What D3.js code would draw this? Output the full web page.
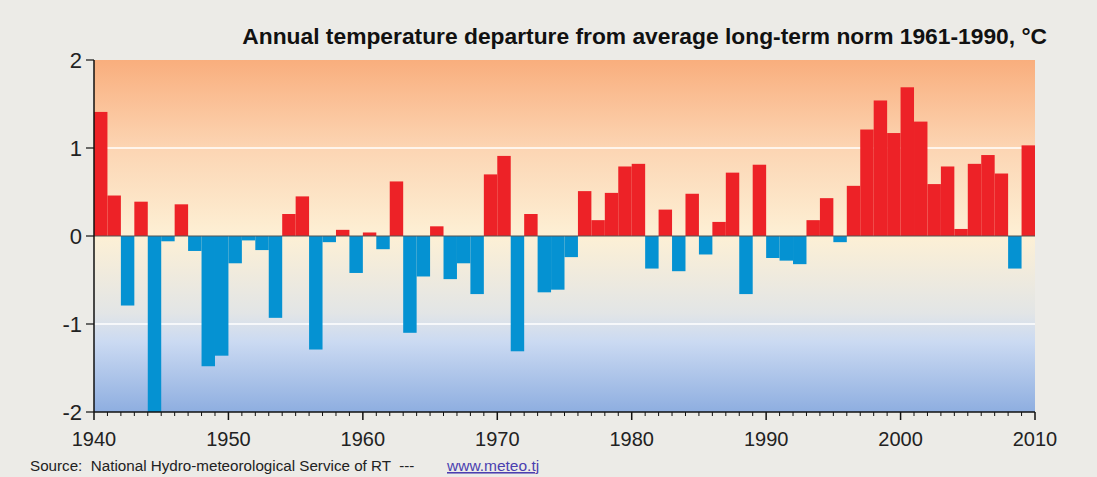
<!DOCTYPE html>
<html>
<head>
<meta charset="utf-8">
<script src="https://cdn.jsdelivr.net/npm/d3@7"></script>
<style>
  html, body { margin: 0; padding: 0; background: #ecebe7; }
  svg { display: block; font-family: "Liberation Sans", Arial, sans-serif; }
</style>
</head>
<body>
<svg id="chart" width="1097" height="477"></svg>
<script>
// Annual departure from 1961-1990 norm, one value per year
const years = d3.range(1940, 2010);
const departures = [
  1.41, 0.46, -0.79, 0.39, -2.0, -0.06, 0.36, -0.17, -1.48, -1.36,
  -0.31, -0.05, -0.16, -0.93, 0.25, 0.45, -1.29, -0.07, 0.07, -0.42,
  0.04, -0.15, 0.62, -1.10, -0.46, 0.11, -0.49, -0.31, -0.66, 0.70,
  0.91, -1.31, 0.25, -0.64, -0.61, -0.24, 0.51, 0.18, 0.49, 0.79,
  0.82, -0.37, 0.30, -0.40, 0.48, -0.21, 0.16, 0.72, -0.66, 0.81,
  -0.25, -0.28, -0.32, 0.18, 0.43, -0.07, 0.57, 1.21, 1.54, 1.17,
  1.69, 1.30, 0.59, 0.79, 0.08, 0.82, 0.92, 0.71, -0.37, 1.03
];
const yTicks = [2, 1, 0, -1, -2];
const xLabels = [1940, 1950, 1960, 1970, 1980, 1990, 2000, 2010];
const title = 'Annual temperature departure from average long-term norm 1961-1990, °C';

const data = years.map((y, i) => ({ year: y, value: departures[i] }));

const svg = d3.select('#chart');
const plotLeft = 94, plotRight = 1035, plotTop = 60, plotBottom = 412;

const x = d3.scaleLinear().domain([1940, 2010]).range([plotLeft, plotRight]);
const y = d3.scaleLinear().domain([-2, 2]).range([plotBottom, plotTop]);

// Background gradient: orange at top, cream at zero, blue at bottom
const grad = svg.append('defs').append('linearGradient')
  .attr('id', 'bg').attr('x1', 0).attr('y1', 0).attr('x2', 0).attr('y2', 1);
[
  [0, '#f9ae7d'], [0.25, '#fcd5b3'], [0.5, '#fdf0d5'],
  [0.72, '#e2e5e6'], [0.8, '#cbdaf2'], [1, '#8eaee0']
].forEach(([o, c]) => grad.append('stop').attr('offset', o).attr('stop-color', c));

svg.append('rect')
  .attr('x', plotLeft).attr('y', plotTop)
  .attr('width', plotRight - plotLeft).attr('height', plotBottom - plotTop)
  .attr('fill', 'url(#bg)');

// White grid lines at +1 / -1
svg.selectAll('.grid')
  .data([1, -1])
  .join('line')
  .attr('x1', plotLeft).attr('x2', plotRight)
  .attr('y1', d => y(d)).attr('y2', d => y(d))
  .attr('stroke', '#fff').attr('stroke-width', 1.5);

// Bars span [year, year+1]
svg.selectAll('.bar')
  .data(data)
  .join('rect')
  .attr('x', d => x(d.year))
  .attr('width', d => x(d.year + 1) - x(d.year))
  .attr('y', d => y(Math.max(0, d.value)))
  .attr('height', d => Math.abs(y(d.value) - y(0)))
  .attr('fill', d => d.value >= 0 ? '#ed2227' : '#0592d2');

// Zero line
svg.append('line')
  .attr('x1', plotLeft).attr('x2', plotRight)
  .attr('y1', y(0)).attr('y2', y(0))
  .attr('stroke', '#555').attr('stroke-width', 1.2);

// Y axis
svg.append('line')
  .attr('x1', plotLeft).attr('x2', plotLeft).attr('y1', plotTop).attr('y2', plotBottom)
  .attr('stroke', '#111').attr('stroke-width', 1.5);
svg.selectAll('.ytick')
  .data(yTicks)
  .join('line')
  .attr('x1', plotLeft - 8).attr('x2', plotLeft)
  .attr('y1', d => y(d)).attr('y2', d => y(d))
  .attr('stroke', '#111').attr('stroke-width', 1.2);
svg.selectAll('.ylab')
  .data(yTicks)
  .join('text')
  .attr('x', plotLeft - 12).attr('y', d => y(d) + 8)
  .attr('text-anchor', 'end')
  .attr('font-size', 22).attr('fill', '#222')
  .text(d => d);

// X axis
svg.append('line')
  .attr('x1', plotLeft).attr('x2', plotRight).attr('y1', plotBottom).attr('y2', plotBottom)
  .attr('stroke', '#111').attr('stroke-width', 1.5);
svg.selectAll('.xtick')
  .data(d3.range(1940, 2011))
  .join('line')
  .attr('x1', d => x(d)).attr('x2', d => x(d))
  .attr('y1', plotBottom)
  .attr('y2', d => plotBottom + (d % 10 === 0 ? 8 : 4))
  .attr('stroke', '#111')
  .attr('stroke-width', d => d % 10 === 0 ? 1.5 : 1);
svg.selectAll('.xlab')
  .data(xLabels)
  .join('text')
  .attr('x', d => x(d)).attr('y', 446)
  .attr('text-anchor', 'middle')
  .attr('font-size', 20).attr('fill', '#222')
  .text(d => d);

// Title
svg.append('text')
  .attr('x', 1047).attr('y', 44)
  .attr('text-anchor', 'end')
  .attr('font-size', 22.8).attr('font-weight', 'bold').attr('fill', '#111')
  .text(title);

// Source line (keep the double spaces)
svg.append('text')
  .attr('x', 30).attr('y', 471)
  .attr('font-size', 15.2).attr('fill', '#222')
  .style('white-space', 'pre')
  .text('Source:  National Hydro-meteorological Service of RT  ---');
svg.append('text')
  .attr('x', 447).attr('y', 471)
  .attr('font-size', 15.5).attr('fill', '#4b3fb0')
  .attr('text-decoration', 'underline')
  .text('www.meteo.tj');
</script>
</body>
</html>
